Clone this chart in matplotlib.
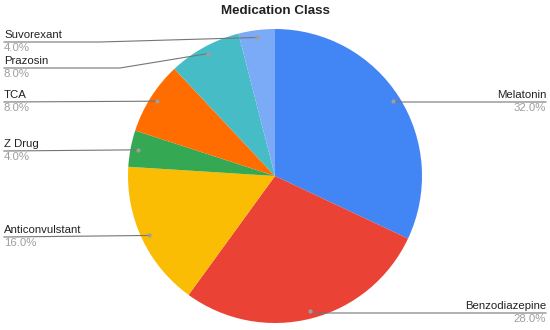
import numpy as np
import matplotlib
matplotlib.use("Agg")
import matplotlib.pyplot as plt

# data
labels = ["Melatonin", "Benzodiazepine", "Anticonvulstant", "Z Drug", "TCA", "Prazosin", "Suvorexant"]
values = [32.0, 28.0, 16.0, 4.0, 8.0, 8.0, 4.0]
colors = ["#4285F4", "#EA4335", "#FBBC04", "#34A853", "#FF6D01", "#46BDC6", "#7BAAF7"]

# layout (pixel coords, y measured from top)
W, H = 550, 330
cx, cy, R = 275, 176, 147
# label anchor: (side, line y, elbow x)
label_pos = {
    "Melatonin": ("right", 102, None),
    "Benzodiazepine": ("right", 313, None),
    "Anticonvulstant": ("left", 237, None),
    "Z Drug": ("left", 151, None),
    "TCA": ("left", 102, None),
    "Prazosin": ("left", 68, 120),
    "Suvorexant": ("left", 42, 100),
}

plt.rcParams['font.family'] = ['Liberation Sans', 'DejaVu Sans']
fig = plt.figure(figsize=(W / 100, H / 100), dpi=100)
ax = fig.add_axes([0, 0, 1, 1])
ax.set_xlim(0, W)
ax.set_ylim(0, H)
ax.axis("off")

wedges, _ = ax.pie(values, colors=colors, startangle=90, counterclock=False,
                   center=(cx, H - cy), radius=R, frame=True,
                   wedgeprops=dict(linewidth=0))
ax.set_xlim(0, W)
ax.set_ylim(0, H)
ax.axis("off")

line_col = "#757575"
for w, lab, v in zip(wedges, labels, values):
    mid = np.deg2rad((w.theta1 + w.theta2) / 2)
    dx = cx + 0.95 * R * np.cos(mid)
    dy = (H - cy) + 0.95 * R * np.sin(mid)
    side, ly, elbow = label_pos[lab]
    ly = H - ly
    ax.plot([dx], [dy], "o", ms=2, color="#9e9e9e", zorder=5)
    if side == "right":
        xs, ys = [dx, 546], [dy, ly]
        ax.plot([dx, dx + 8, 546], [dy, ly, ly], color=line_col, lw=0.8, zorder=4)
        ax.text(546, ly + 2, lab, ha="right", va="bottom", fontsize=8.2, color="#222222")
        ax.text(546, ly - 1, f"{v:.1f}%", ha="right", va="top", fontsize=8.2, color="#9e9e9e")
    else:
        if elbow is None:
            ax.plot([4, dx], [ly, dy], color=line_col, lw=0.8, zorder=4)
        else:
            ax.plot([4, elbow, dx], [ly, ly, dy], color=line_col, lw=0.8, zorder=4)
        ax.text(4, ly + 2, lab, ha="left", va="bottom", fontsize=8.2, color="#222222")
        ax.text(4, ly - 1, f"{v:.1f}%", ha="left", va="top", fontsize=8.2, color="#9e9e9e")

ax.text(275, H - 11, "Medication Class", ha="center", va="center",
        fontsize=9.6, fontweight="bold", color="#222222")

fig.savefig("out.png", dpi=100)
